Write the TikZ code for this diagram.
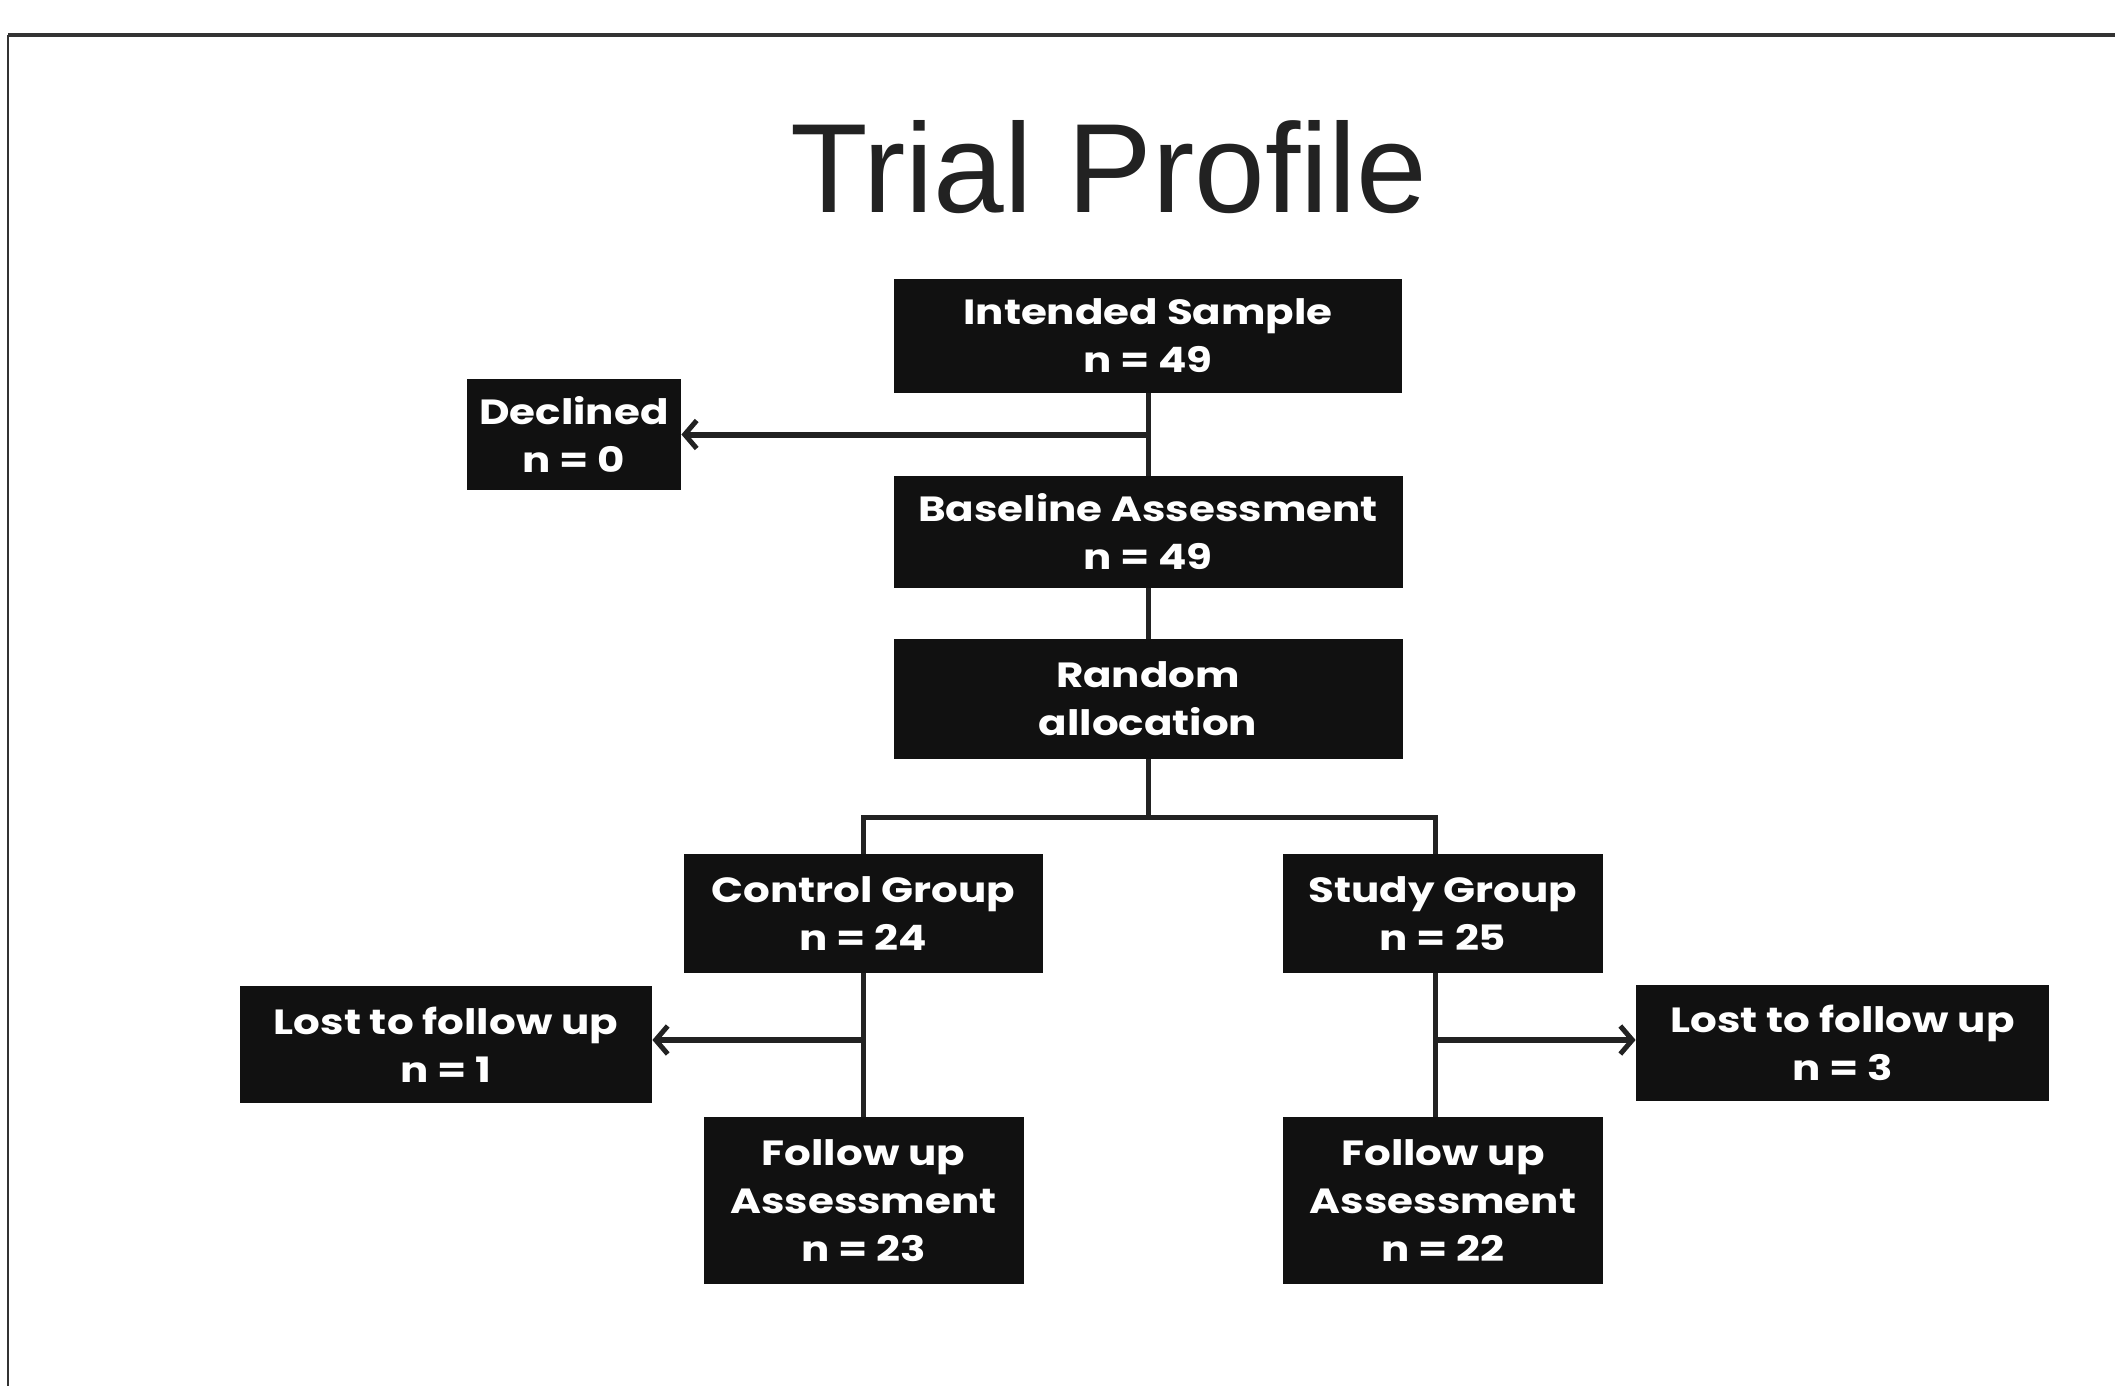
\documentclass[tikz,border=0pt]{standalone}
\usepackage{fontspec}
\setmainfont{Liberation Sans}
\newfontfamily\boxfont{Poppins}[FakeStretch=1.2]
\usetikzlibrary{arrows.meta}
\definecolor{boxblack}{HTML}{111111}
\definecolor{linegray}{HTML}{222222}
\definecolor{framegray}{HTML}{333333}
\tikzset{
  blk/.style={fill=boxblack, text=white, inner sep=0pt, align=center,
    font=\boxfont\bfseries\fontsize{17.5pt}{24pt}\selectfont},
  conn/.style={draw=linegray, line width=2.5pt},
  arr/.style={draw=linegray, line width=3pt, -{Straight Barb[length=6pt,width=14pt,line width=2.5pt]}},
}
\begin{document}
\begin{tikzpicture}[x=0.5pt,y=-0.5pt]
\useasboundingbox (0,0) rectangle (2115,1386);
% frame
\draw[framegray, line width=2.2pt] (2115,35) -- (8,35);
\draw[framegray, line width=1.2pt] (8,35) -- (8,1386);
% title
\node[anchor=base, inner sep=0pt, text=linegray, font=\fontsize{63.5pt}{70pt}\selectfont] (title) at (1109,213) {Trial Profile};
% boxes
\node[blk, minimum width=254pt, minimum height=57pt] (intended) at (1148,336) {Intended Sample\\n = 49};
\node[blk, minimum width=107pt, minimum height=55.5pt] (declined) at (574,434.5) {Declined\\n = 0};
\node[blk, minimum width=254.5pt, minimum height=56pt] (baseline) at (1148,532) {Baseline Assessment\\n = 49};
\node[blk, minimum width=254.5pt, minimum height=60pt] (random) at (1148,699) {Random\\allocation};
\node[blk, minimum width=179.5pt, minimum height=59.5pt] (control) at (863.5,913.5) {Control Group\\n = 24};
\node[blk, minimum width=160pt, minimum height=59.5pt] (study) at (1443,913.5) {Study Group\\n = 25};
\node[blk, minimum width=206pt, minimum height=58.5pt] (lostL) at (446,1044.5) {Lost to follow up\\n = 1};
\node[blk, minimum width=206.5pt, minimum height=58pt] (lostR) at (1842.5,1043) {Lost to follow up\\n = 3};
\node[blk, minimum width=160pt, minimum height=83.5pt] (followL) at (863.5,1200.5) {Follow up\\Assessment\\n = 23};
\node[blk, minimum width=160pt, minimum height=83.5pt] (followR) at (1443,1200.5) {Follow up\\Assessment\\n = 22};
% helper coordinates
\coordinate (jd) at (intended.south |- declined.east);
\coordinate (split) at (1148,817);
\coordinate (splitL) at (863.5,817);
\coordinate (splitR) at (1435,817);
\coordinate (jl) at (863.5,1040);
\coordinate (jr) at (1435,1040);
% connectors
\draw[conn] (intended.south) -- (baseline.north);
\draw[arr] (jd) -- (declined.east);
\draw[conn] (baseline.south) -- (random.north);
\draw[conn] (random.south) -- (split);
\draw[conn, line cap=rect] (splitL) -- (splitR);
\draw[conn] (splitL) -- (control.north);
\draw[conn] (splitR) -- (splitR |- study.north);
\draw[conn] (control.south) -- (followL.north);
\draw[conn] (splitR |- study.south) -- (splitR |- followR.north);
\draw[arr] (jl) -- (jl -| lostL.east);
\draw[arr] (jr) -- (jr -| lostR.west);
\end{tikzpicture}
\end{document}
